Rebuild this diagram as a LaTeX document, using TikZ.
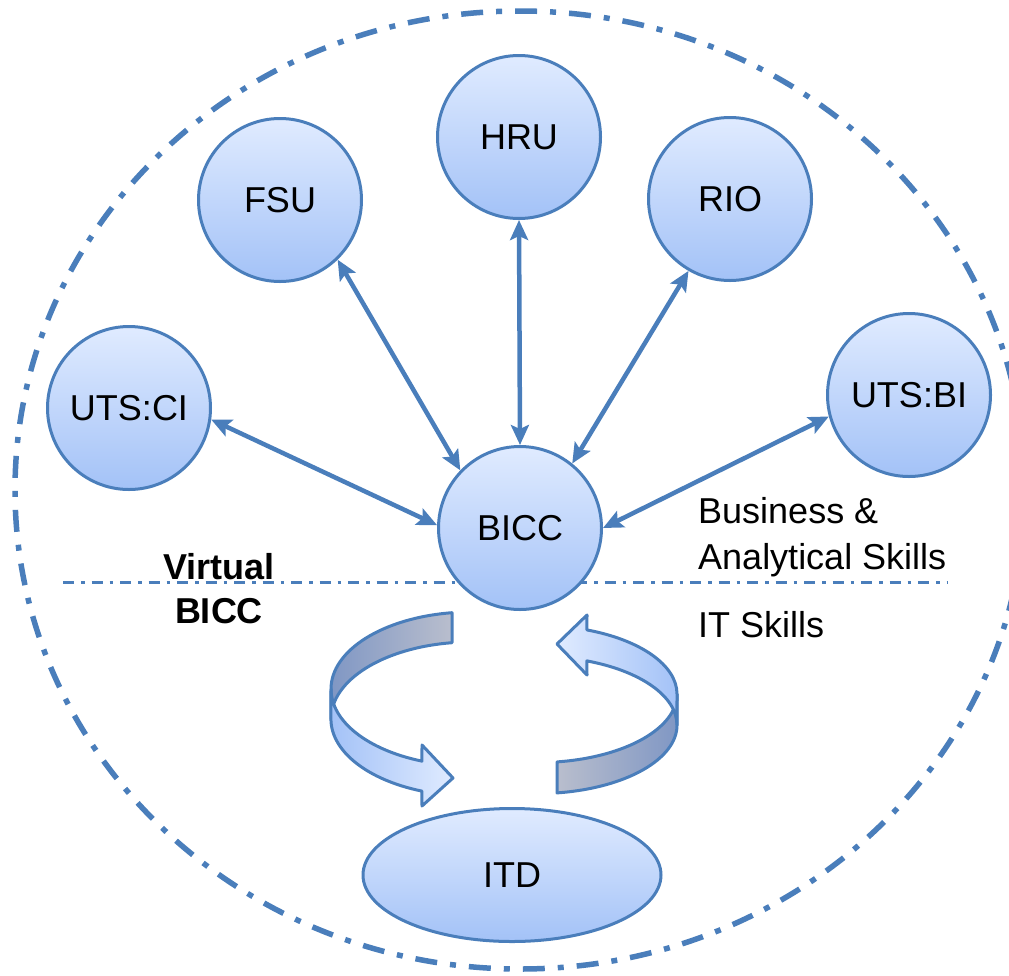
\documentclass[tikz,border=0pt]{standalone}
\usepackage{fontspec}
\setmainfont{Liberation Sans}
\usetikzlibrary{shapes.geometric,arrows.meta}
\definecolor{edgeblue}{HTML}{4A7EBB}
\definecolor{topblue}{HTML}{E0EBFF}
\definecolor{botblue}{HTML}{A3C2F7}
\definecolor{darkband}{HTML}{8097C4}
\definecolor{paleband}{HTML}{B9BECD}
\tikzset{
  unit/.style={circle, draw=edgeblue, line width=3pt, top color=topblue, bottom color=botblue,
    minimum size=163pt, inner sep=0pt, font=\fontsize{36}{43}\selectfont},
  link/.style={edgeblue, line width=4.5pt, >={Stealth[length=20pt,width=18pt,inset=4pt]}, <->},
  band/.style={draw=edgeblue, line width=3pt, line join=round},
  skill/.style={anchor=base west, inner sep=0pt, align=left, font=\fontsize{36}{46}\selectfont},
}
\begin{document}
\begin{tikzpicture}[x=1pt,y=1pt]
    \useasboundingbox (0,0) rectangle (1009,-975);

    \draw[edgeblue, line width=5.5pt, dash pattern=on 22pt off 13pt on 6pt off 13pt]
        (520,-490) ellipse [x radius=505, y radius=479];
    \coordinate (sl) at (63,-582);
    \coordinate (sr) at (948,-582);
    \draw[edgeblue, line width=3pt, dash pattern=on 11pt off 7pt on 3.5pt off 7pt] (sl) to (sr);

    % ribbon arrows
    \draw[band, left color=darkband, right color=paleband] (452,-612.7)
        arc[start angle=97.8, end angle=180, x radius=140, y radius=77] -- ++(0,-30)
        arc[start angle=180, end angle=97.8, x radius=140, y radius=77] -- cycle;
    \draw[band, left color=botblue, right color=topblue] (331,-689)
        arc[start angle=180, end angle=249.5, x radius=140, y radius=77]
        -- (422,-745) -- (453,-778) -- (422,-806) -- (421.9,-791.1)
        arc[start angle=249.5, end angle=180, x radius=140, y radius=77] -- cycle;
    \draw[band, left color=paleband, right color=darkband] (557,-792.9)
        arc[start angle=-81.8, end angle=0, x radius=140, y radius=68.6] -- ++(0,31)
        arc[start angle=0, end angle=-81.8, x radius=140, y radius=68.6] -- cycle;
    \draw[band, left color=topblue, right color=botblue] (677,-694)
        arc[start angle=0, end angle=69.1, x radius=140, y radius=68.6]
        -- (587,-615) -- (557,-644) -- (587,-675) -- (586.9,-660.9)
        arc[start angle=69.1, end angle=0, x radius=140, y radius=68.6] -- cycle;

    \node[unit] (hru) at (519,-137) {HRU};
    \node[unit] (fsu) at (280,-200) {FSU};
    \node[unit] (rio) at (730,-199) {RIO};
    \node[unit] (utsci) at (129,-408) {UTS:CI};
    \node[unit] (utsbi) at (909,-395) {UTS:BI};
    \node[unit] (bicc) at (520,-528) {BICC};
    \node[unit, ellipse, minimum width=298pt, minimum height=133pt] (itd) at (512,-875) {ITD};

    \draw[link] (utsci.-8) to (bicc.178);
    \draw[link] (fsu.-46) to (bicc.136);
    \draw[link] (hru.south) to (bicc.north);
    \draw[link] (rio.-120) to (bicc.51);
    \draw[link] (utsbi.-165) to (bicc.0);

    \node[skill] (bizskill) at (698,-569) {Business \&\\Analytical Skills};
    \node[skill] (itskill) at (698,-637) {IT Skills};
    \node[anchor=base, inner sep=0pt, align=center, font=\fontsize{36}{44}\bfseries] (virtual) at (219,-623) {Virtual\\BICC};
\end{tikzpicture}
\end{document}
